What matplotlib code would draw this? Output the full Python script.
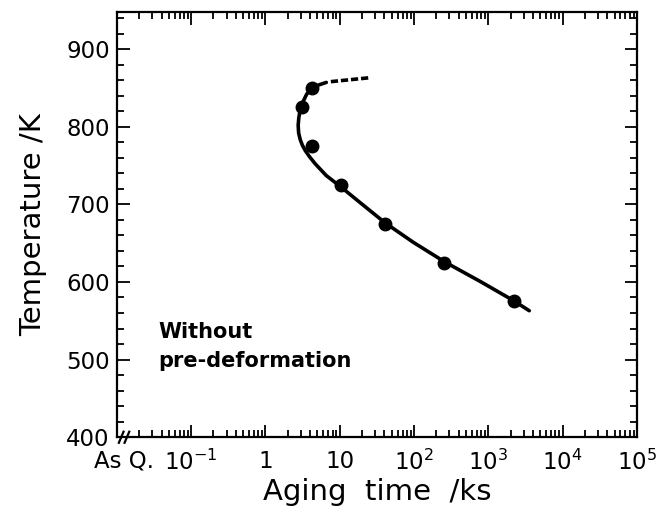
import numpy as np
import matplotlib
matplotlib.use("Agg")
import matplotlib.pyplot as plt
import matplotlib.transforms as mtransforms
from matplotlib.ticker import LogLocator, MultipleLocator, FixedLocator, NullFormatter

plt.rcParams['font.family'] = ['DejaVu Sans']

# measured points (aging time in ks, temperature in K)
pt_time = [4.3, 3.1, 4.3, 10.5, 41, 257, 2200]
pt_temp = [850, 825, 775, 725, 675, 625, 575]

# C-curve (solid part)
curve_time = [6.6, 5.3, 4.3, 3.6, 3.2, 2.95, 2.82, 2.76, 2.8, 2.95, 3.15, 3.45, 3.95, 4.7, 6.6,
              10.5, 19.5, 41, 98, 257, 800, 2180, 3550]
curve_temp = [857, 854, 850, 842, 832, 822, 812, 802, 792, 783, 776, 769, 761, 752, 737,
              722, 701, 676, 651, 626, 600, 576, 563]

# dashed extension at the top
dash_time = [7.6, 25]
dash_temp = [858, 863]

tick_pos = [1e-2, 1e-1, 1, 10, 1e2, 1e3, 1e4, 1e5]
tick_lab = ['As Q.', '10$^{-1}$', '1', '10', '10$^2$', '10$^3$', '10$^4$', '10$^5$']

fig = plt.figure(figsize=(6.56, 5.12), dpi=100)
ax = fig.add_axes([0.178, 0.146, 0.793, 0.831])

ax.plot(curve_time, curve_temp, color='black', lw=2.6, solid_capstyle='round',
        solid_joinstyle='round')
ax.plot(dash_time, dash_temp, color='black', lw=2.6, dashes=(2.0, 0.8))
ax.plot(pt_time, pt_temp, 'o', color='black', ms=9)

ax.set_xscale('log')
ax.set_xlim(1e-2, 1e5)
ax.set_ylim(400, 948)

ax.xaxis.set_major_locator(FixedLocator(tick_pos))
ax.set_xticklabels(tick_lab)
ax.xaxis.set_minor_locator(LogLocator(base=10, subs=np.arange(2, 10), numticks=20))
ax.xaxis.set_minor_formatter(NullFormatter())
ax.yaxis.set_major_locator(MultipleLocator(100))
ax.yaxis.set_minor_locator(MultipleLocator(20))

ax.tick_params(which='both', direction='in', top=True, right=True, labelsize=16.5, width=1.3)
ax.tick_params(which='major', length=9)
ax.tick_params(axis='x', which='major', pad=9)
ax.tick_params(axis='y', which='major', pad=5)
ax.tick_params(which='minor', length=5)
for s in ax.spines.values():
    s.set_linewidth(1.6)

# nudge the "As Q." label to the right, as in the original
asq = ax.get_xticklabels()[0]
asq.set_transform(asq.get_transform() + mtransforms.ScaledTranslation(0.07, 0, fig.dpi_scale_trans))

ax.set_xlabel('Aging  time  /ks', fontsize=21, labelpad=2)
ax.set_ylabel('Temperature /K', fontsize=21, labelpad=14)

ax.text(0.08, 0.214, 'Without\npre-deformation', transform=ax.transAxes,
        fontsize=15, fontweight='bold', va='center', linespacing=1.55)

# axis break marks "//"
for dx in (0.0, 0.011):
    ax.plot([0.004 + dx, 0.013 + dx], [-0.013, 0.013], color='black', lw=1.6,
            transform=ax.transAxes, clip_on=False)

fig.savefig('out.png', dpi=100)
